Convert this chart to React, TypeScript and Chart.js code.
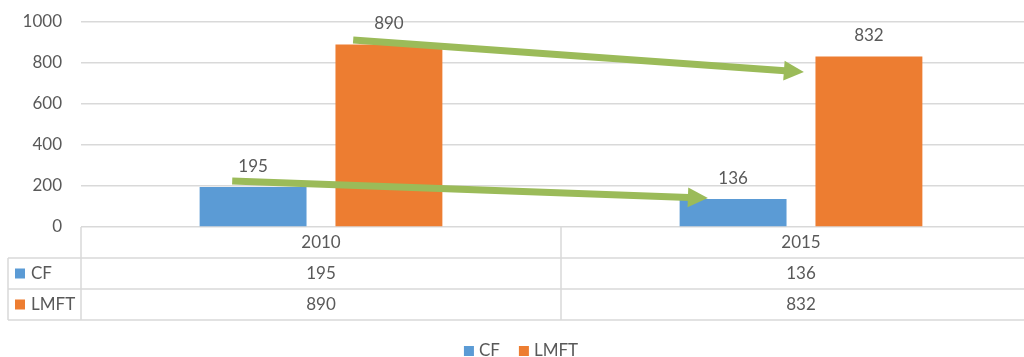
import React, { useEffect, useRef } from "react";
import { Chart, registerables } from "chart.js";

Chart.register(...registerables);

const categories = ["2010", "2015"];
const seriesNames = ["CF", "LMFT"];
const cfValues = [195, 136];
const lmftValues = [890, 832];
const yTicks = [0, 200, 400, 600, 800, 1000];
// Trend arrows in data units: [categoryIndex, value]
const arrowStarts = [[-0.185, 224], [0.067, 912]];
const arrowEnds = [[0.806, 141], [1.006, 756]];

const COLORS = ["#5B9BD5", "#ED7D31"];
const TEXT = "#595959";
const GRID = "#D9D9D9";
const ARROW = "#9BBB59";
const FONT = "Lato, 'Noto Sans', sans-serif";

const overlayPlugin = {
  id: "overlay",
  afterDatasetsDraw(chart: any) {
    const ctx = chart.ctx;
    const xs = chart.scales.x;
    const ys = chart.scales.y;
    const area = chart.chartArea;
    const n = chart.data.labels.length;
    const catW = (area.right - area.left) / n;
    ctx.save();

    // data labels
    ctx.font = `17px ${FONT}`;
    ctx.fillStyle = TEXT;
    ctx.textAlign = "center";
    ctx.textBaseline = "middle";
    chart.data.datasets.forEach((ds: any, di: number) => {
      const meta = chart.getDatasetMeta(di);
      meta.data.forEach((bar: any, i: number) => {
        ctx.fillText(String(ds.data[i]), bar.x, bar.y - 21);
      });
    });

    // arrows
    ctx.fillStyle = ARROW;
    ctx.strokeStyle = ARROW;
    arrowStarts.forEach((s, k) => {
      const e = arrowEnds[k];
      const x1 = xs.getPixelForValue(s[0]);
      const y1 = ys.getPixelForValue(s[1]);
      const x2 = xs.getPixelForValue(e[0]);
      const y2 = ys.getPixelForValue(e[1]);
      const ang = Math.atan2(y2 - y1, x2 - x1);
      const headL = 20;
      const headW = 10;
      const bx = x2 - headL * Math.cos(ang);
      const by = y2 - headL * Math.sin(ang);
      ctx.lineWidth = 7;
      ctx.lineCap = "butt";
      ctx.beginPath();
      ctx.moveTo(x1, y1);
      ctx.lineTo(bx + Math.cos(ang), by + Math.sin(ang));
      ctx.stroke();
      ctx.beginPath();
      ctx.moveTo(x2, y2);
      ctx.lineTo(bx + headW * Math.sin(ang), by - headW * Math.cos(ang));
      ctx.lineTo(bx - headW * Math.sin(ang), by + headW * Math.cos(ang));
      ctx.closePath();
      ctx.fill();
    });

    // data table
    const top = area.bottom;
    const rowH = 31;
    const tableLeft = 8;
    const right = chart.width;
    ctx.strokeStyle = GRID;
    ctx.lineWidth = 1.5;
    ctx.beginPath();
    for (let r = 1; r <= 3; r++) {
      ctx.moveTo(tableLeft, top + rowH * r);
      ctx.lineTo(right, top + rowH * r);
    }
    ctx.moveTo(tableLeft, top + rowH);
    ctx.lineTo(tableLeft, top + rowH * 3);
    for (let i = 0; i <= n; i++) {
      const x = area.left + catW * i;
      ctx.moveTo(x, top);
      ctx.lineTo(x, top + rowH * 3);
    }
    ctx.stroke();

    ctx.font = `17px ${FONT}`;
    ctx.fillStyle = TEXT;
    ctx.textAlign = "center";
    ctx.textBaseline = "middle";
    chart.data.labels.forEach((lab: string, i: number) => {
      const cx = xs.getPixelForValue(i);
      ctx.fillText(lab, cx, top + rowH * 0.5);
      chart.data.datasets.forEach((ds: any, di: number) => {
        ctx.fillText(String(ds.data[i]), cx, top + rowH * (di + 1.5));
      });
    });
    chart.data.datasets.forEach((ds: any, di: number) => {
      const cy = top + rowH * (di + 1.5);
      ctx.fillStyle = ds.backgroundColor;
      ctx.fillRect(15, cy - 5, 10, 10);
      ctx.fillStyle = TEXT;
      ctx.textAlign = "left";
      ctx.fillText(ds.label, 31, cy);
    });

    // legend
    ctx.font = `17px ${FONT}`;
    const box = 10;
    const gap = 5;
    const itemGap = 19;
    const widths = chart.data.datasets.map(
      (ds: any) => box + gap + ctx.measureText(ds.label).width
    );
    const total = widths.reduce((a: number, b: number) => a + b, 0) + itemGap * (widths.length - 1);
    let lx = chart.width / 2 - total / 2;
    const ly = 351;
    chart.data.datasets.forEach((ds: any, di: number) => {
      ctx.fillStyle = ds.backgroundColor;
      ctx.fillRect(lx, ly - box / 2, box, box);
      ctx.fillStyle = TEXT;
      ctx.textAlign = "left";
      ctx.textBaseline = "middle";
      ctx.fillText(ds.label, lx + box + gap, ly);
      lx += widths[di] + itemGap;
    });

    ctx.restore();
  },
};

export default function App() {
  const ref = useRef<HTMLCanvasElement>(null);
  useEffect(() => {
    if (!ref.current) return;
    const chart = new Chart(ref.current, {
      type: "bar",
      data: {
        labels: categories,
        datasets: [
          { label: seriesNames[0], data: cfValues, backgroundColor: COLORS[0] },
          { label: seriesNames[1], data: lmftValues, backgroundColor: COLORS[1] },
        ],
      },
      options: {
        responsive: false,
        maintainAspectRatio: false,
        animation: false,
        devicePixelRatio: 1,
        layout: { padding: { top: 22, right: 1, left: 0, bottom: 0 } },
        datasets: { bar: { categoryPercentage: 0.566, barPercentage: 0.787 } },
        plugins: {
          legend: { display: false },
          tooltip: { enabled: false },
          title: { display: false },
        },
        scales: {
          x: {
            grid: { display: false },
            border: { display: false },
            ticks: { display: false },
            afterFit: (s: any) => {
              s.height = 130;
            },
          },
          y: {
            min: 0,
            max: 1000,
            afterBuildTicks: (s: any) => {
              s.ticks = yTicks.map((v) => ({ value: v }));
            },
            afterFit: (s: any) => {
              s.width = 81;
              s.paddingTop = 0;
              s.paddingBottom = 0;
            },
            grid: { color: GRID, lineWidth: 1.5, drawTicks: false },
            border: { display: false },
            ticks: {
              color: TEXT,
              padding: 19,
              font: { family: FONT, size: 17 },
              callback: (v: any) => String(v),
            },
          },
        },
      },
      plugins: [overlayPlugin],
    });
    return () => chart.destroy();
  }, []);
  return (
    <div
      style={{
        position: "absolute",
        left: 0,
        top: 0,
        width: 1024,
        height: 357,
        overflow: "hidden",
        background: "#fff",
      }}
    >
      <canvas ref={ref} width={1042} height={357} style={{ width: 1042, height: 357 }} />
    </div>
  );
}
